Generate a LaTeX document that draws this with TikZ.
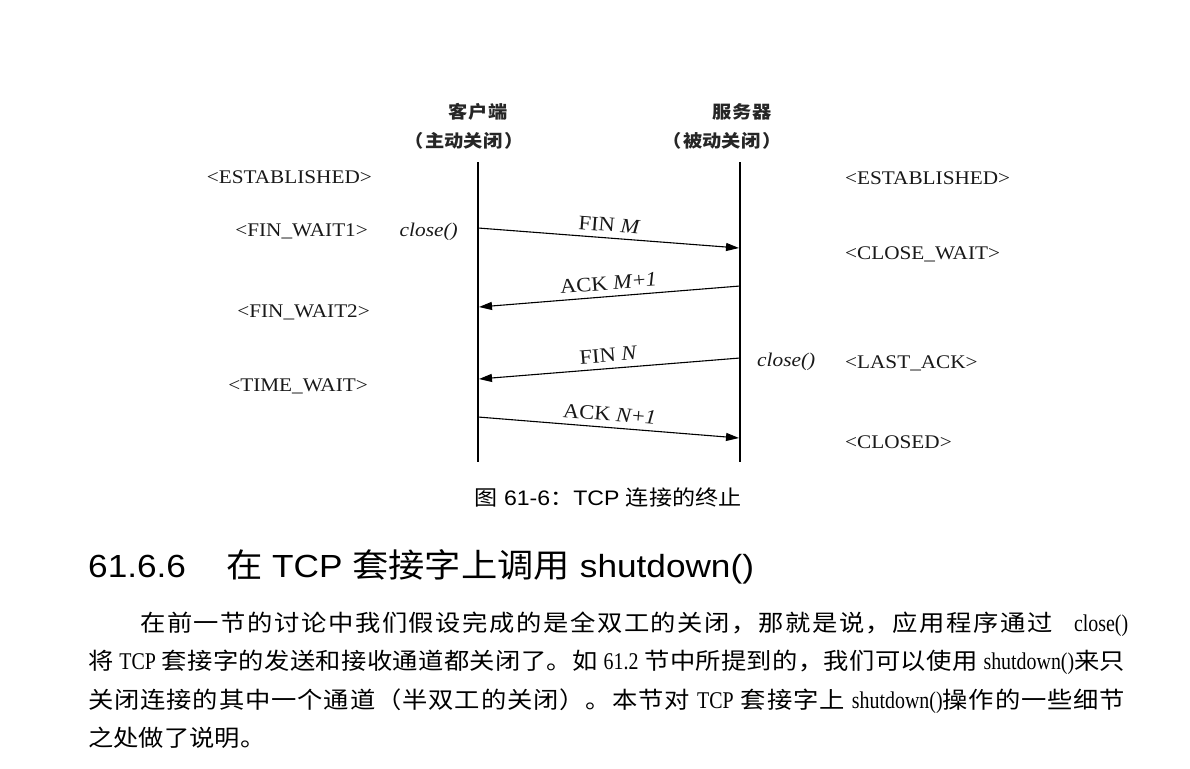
\documentclass[tikz,border=0pt]{standalone}
\usepackage{fontspec}
\setmainfont{Liberation Serif}[FakeStretch=1.1]
\setsansfont{Liberation Sans}[FakeStretch=1.1]
\newfontfamily\cjk{Noto Sans CJK SC}[FakeStretch=1.1]
\newfontfamily\latbody{Liberation Serif}[FakeStretch=0.83]
\usetikzlibrary{arrows.meta}

% stretchable glue between CJK characters, so justified lines can be spread
\XeTeXinterchartokenstate=1
\newXeTeXintercharclass\CJKcls
\newcount\cjkc
\cjkc="3000
\loop
  \XeTeXcharclass\cjkc=\CJKcls
  \ifnum\cjkc<"9FFF \advance\cjkc by 1
\repeat
\cjkc="FF00
\loop
  \XeTeXcharclass\cjkc=\CJKcls
  \ifnum\cjkc<"FFEF \advance\cjkc by 1
\repeat
\XeTeXinterchartoks\CJKcls\CJKcls={\hskip0pt plus 1pt\relax}
\hbadness=10000

% Latin words inside the body paragraph
\newcommand\lat[1]{{\latbody\fontsize{24}{24}\selectfont #1}}

\begin{document}
\begin{tikzpicture}[x=1pt,y=-1pt,
  lifeline/.style={line width=2pt},
  msg/.style={line width=1.1pt,-{Triangle[length=13pt,width=8pt]}},
  party/.style={font=\cjk\bfseries\fontsize{17.5}{17.5}\selectfont, inner sep=0pt, text=black!85},
  state/.style={font=\fontsize{19.3}{20}\selectfont, inner sep=0pt, text=black!90},
  call/.style={font=\itshape\fontsize{19.4}{20}\selectfont, inner sep=0pt, text=black!90},
  msglabel/.style={font=\fontsize{20.5}{22}\selectfont, sloped, inner sep=0pt, text=black!90},
  body/.style={font=\cjk\fontsize{23}{23}\selectfont, inner sep=0pt, anchor=base west},
]
\useasboundingbox (0,0) rectangle (1190,768);
\fill[white] (0,0) rectangle (1190,768);

% the two parties
\node[party] (client) at (478,112) {客\kern1pt 户\kern1pt 端};
\node[party] (clientrole) at (464,141) {（\kern2pt 主动关闭\kern2pt ）};
\node[party] (server) at (742,112) {服\kern1pt 务\kern1pt 器};
\node[party] (serverrole) at (722,141) {（\kern2pt 被动关闭\kern2pt ）};

% lifelines
\coordinate (ctop) at (478,162);
\coordinate (cbot) at (478,462);
\coordinate (stop) at (740,162);
\coordinate (sbot) at (740,462);
\draw[lifeline] (ctop) -- (cbot);
\draw[lifeline] (stop) -- (sbot);

% message end points on the lifelines
\coordinate (c1) at (478,228);
\coordinate (s1) at (739,248);
\coordinate (s2) at (740,286);
\coordinate (c2) at (479,307);
\coordinate (s3) at (740,358);
\coordinate (c3) at (479,379);
\coordinate (c4) at (478,417);
\coordinate (s4) at (739,438);

% the four segments of the close handshake
\draw[msg] (c1) -- (s1) node[msglabel, midway, above=6pt] (finm) {FIN \textit{M}};
\draw[msg] (s2) -- (c2) node[msglabel, midway, above=6pt] (ackm) {ACK \textit{M}+\textit{1}};
\draw[msg] (s3) -- (c3) node[msglabel, midway, above=6pt] (finn) {FIN \textit{N}};
\draw[msg] (c4) -- (s4) node[msglabel, midway, above=6pt] (ackn) {ACK \textit{N}+\textit{1}};

% close() calls
\node[call, anchor=base east] (closec) at (458,236) {close()};
\node[call, anchor=base west] (closes) at (757,366) {close()};

% client states
\node[state, anchor=base east] (cest) at (372,183) {<ESTABLISHED>};
\node[state, anchor=base east] (cfw1) at (368,236.5) {<FIN\_WAIT1>};
\node[state, anchor=base east] (cfw2) at (370,317) {<FIN\_WAIT2>};
\node[state, anchor=base east] (ctw) at (368,391) {<TIME\_WAIT>};

% server states
\node[state, anchor=base west] (sest) at (845,184) {<ESTABLISHED>};
\node[state, anchor=base west] (scw) at (845,259) {<CLOSE\_WAIT>};
\node[state, anchor=base west] (sla) at (845,368) {<LAST\_ACK>};
\node[state, anchor=base west] (scl) at (845,448) {<CLOSED>};

% figure caption
\node[inner sep=0pt, font=\sffamily\fontsize{21}{21}\selectfont] (caption) at (608,497)
  {{\cjk\fontsize{21}{21}\selectfont 图} 61-6{\cjk\fontsize{21}{21}\selectfont ：}TCP {\cjk\fontsize{21}{21}\selectfont 连接的终止}};

% section heading
\node[inner sep=0pt, anchor=base west, font=\sffamily\fontsize{32}{32}\selectfont] (heading) at (88,577)
  {61.6.6\hspace{40pt}{\cjk\fontsize{33}{33}\selectfont 在} TCP {\cjk\fontsize{33}{33}\selectfont 套接字上调用} shutdown()};

% body paragraph
\node[body] (line1) at (140,631)
  {\hbox to 988pt{在前一节的讨论中我们假设完成的是全双工的关闭，那就是说，应用程序通过\hskip 12pt plus 6pt\lat{close()}}};
\node[body] (line2) at (88,669.5)
  {\hbox to 1037pt{将\lat{ TCP }套接字的发送和接收通道都关闭了。如\lat{ 61.2 }节中所提到的，我们可以使用\lat{ shutdown()}来只}};
\node[body] (line3) at (88,708)
  {\hbox to 1037pt{关闭连接的其中一个通道（半双工的关闭）。本节对\lat{ TCP }套接字上\lat{ shutdown()}操作的一些细节}};
\node[body] (line4) at (88,746.5) {之处做了说明。};
\end{tikzpicture}
\end{document}
